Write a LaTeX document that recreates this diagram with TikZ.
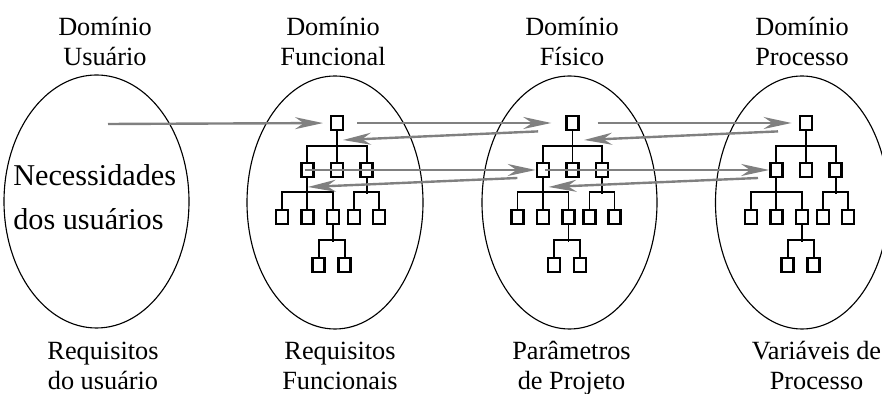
\documentclass[tikz,border=0pt]{standalone}
\usepackage{fontspec}
\setmainfont{Liberation Serif}
\usetikzlibrary{arrows.meta}

\tikzset{
    rim/.style={line width=0.8pt},
    box/.style={draw, line width=1.7pt, minimum width=0.3cm, minimum height=0.36cm, inner sep=0pt},
    branch/.style={line width=1.3pt},
    flow/.style={draw=gray, line width=1.7pt, -{Stealth[length=0.7cm, width=0.3cm, inset=0.22cm]}},
    domlabel/.style={font=\fontsize{18.7}{21.3}\selectfont, align=center, anchor=base, inner sep=0pt},
    needtext/.style={font=\fontsize{21.5}{32}\selectfont, align=left, anchor=base west, inner sep=0pt}
}

\begin{document}
\begin{tikzpicture}

        \useasboundingbox (0,0) rectangle (22.05,9.85);

        \draw [rim] (2.4125,4.8125) ellipse [x radius=2.3125, y radius=3.1625];
        \draw [rim] (8.375,4.7875) ellipse [x radius=2.2, y radius=3.1625];
        \draw [rim] (14.2375,4.7875) ellipse [x radius=2.1875, y radius=3.1625];
        \draw [rim] (20.05,4.7875) ellipse [x radius=2.1625, y radius=3.1625];

        \node[domlabel] (udom) at (2.625,8.2125) {Domínio\\Usuário};
        \node[domlabel] (fdom) at (8.325,8.2125) {Domínio\\Funcional};
        \node[domlabel] (sdom) at (14.3,8.2125) {Domínio\\Físico};
        \node[domlabel] (pdom) at (20.05,8.2125) {Domínio\\Processo};

        \node[domlabel] (ureq) at (2.575,0.1125) {Requisitos\\do usuário};
        \node[domlabel] (freq) at (8.5,0.1125) {Requisitos\\Funcionais};
        \node[domlabel] (spar) at (14.2875,0.1125) {Parâmetros\\de Projeto};
        \node[domlabel] (pvar) at (20.4125,0.1125) {Variáveis de\\Processo};

        \node[needtext] (needs) at (0.325,4.1) {Necessidades\\dos usuários};

        \begin{scope}[shift={(8.425,6.775)}, name prefix=fn-]
        \node[box] (root) at (0,0) {};
        \node[box] (mid1) at (-0.74,-1.175) {};
        \node[box] (mid2) at (0,-1.175) {};
        \node[box] (mid3) at (0.74,-1.175) {};
        \node[box] (low1) at (-1.375,-2.35) {};
        \node[box] (low2) at (-0.74,-2.35) {};
        \node[box] (low3) at (-0.1,-2.35) {};
        \node[box] (low4) at (0.425,-2.35) {};
        \node[box] (low5) at (1.05,-2.35) {};
        \node[box] (sub1) at (-0.46,-3.55) {};
        \node[box] (sub2) at (0.19,-3.55) {};
        \draw[branch] (root) -- (mid2);
        \draw[branch] (mid1.north) -- ++(0,0.395) -| (mid3.north);
        \draw[branch] (mid1) -- (low2);
        \draw[branch] (low1.north) -- ++(0,0.42) -| (low3.north);
        \draw[branch] (mid3.south) -- ++(0,-0.395);
        \draw[branch] (low4.north) -- ++(0,0.42) -| (low5.north);
        \draw[branch] (low3.south) -- ++(0,-0.42);
        \draw[branch] (sub1.north) -- ++(0,0.42) -| (sub2.north);
        \end{scope}

        \begin{scope}[shift={(14.3125,6.775)}, name prefix=fs-]
        \node[box] (root) at (0,0) {};
        \node[box] (mid1) at (-0.74,-1.175) {};
        \node[box] (mid2) at (0,-1.175) {};
        \node[box] (mid3) at (0.74,-1.175) {};
        \node[box] (low1) at (-1.375,-2.35) {};
        \node[box] (low2) at (-0.74,-2.35) {};
        \node[box] (low3) at (-0.1,-2.35) {};
        \node[box] (low4) at (0.425,-2.35) {};
        \node[box] (low5) at (1.05,-2.35) {};
        \node[box] (sub1) at (-0.46,-3.55) {};
        \node[box] (sub2) at (0.19,-3.55) {};
        \draw[branch] (root) -- (mid2);
        \draw[branch] (mid1.north) -- ++(0,0.395) -| (mid3.north);
        \draw[branch] (mid1) -- (low2);
        \draw[branch] (low1.north) -- ++(0,0.42) -| (low3.north);
        \draw[branch] (mid3.south) -- ++(0,-0.395);
        \draw[branch] (low4.north) -- ++(0,0.42) -| (low5.north);
        \draw[branch] (low3.south) -- ++(0,-0.42);
        \draw[branch] (sub1.north) -- ++(0,0.42) -| (sub2.north);
        \end{scope}

        \begin{scope}[shift={(20.15,6.775)}, name prefix=pr-]
        \node[box] (root) at (0,0) {};
        \node[box] (mid1) at (-0.74,-1.175) {};
        \node[box] (mid2) at (0,-1.175) {};
        \node[box] (mid3) at (0.74,-1.175) {};
        \node[box] (low1) at (-1.375,-2.35) {};
        \node[box] (low2) at (-0.74,-2.35) {};
        \node[box] (low3) at (-0.1,-2.35) {};
        \node[box] (low4) at (0.425,-2.35) {};
        \node[box] (low5) at (1.05,-2.35) {};
        \node[box] (sub1) at (-0.46,-3.55) {};
        \node[box] (sub2) at (0.19,-3.55) {};
        \draw[branch] (root) -- (mid2);
        \draw[branch] (mid1.north) -- ++(0,0.395) -| (mid3.north);
        \draw[branch] (mid1) -- (low2);
        \draw[branch] (low1.north) -- ++(0,0.42) -| (low3.north);
        \draw[branch] (mid3.south) -- ++(0,-0.395);
        \draw[branch] (low4.north) -- ++(0,0.42) -| (low5.north);
        \draw[branch] (low3.south) -- ++(0,-0.42);
        \draw[branch] (sub1.north) -- ++(0,0.42) -| (sub2.north);
        \end{scope}

        \coordinate (need) at (2.7,6.75);

        \draw[flow, shorten >=0.17cm] (need) -- (fn-root);
        \draw[flow, shorten <=0.33cm, shorten >=0.35cm] (fn-root) -- (fs-root);
        \draw[flow] ([shift={(-0.86,-0.21)}]fs-root.center) -- ([shift={(0.15,-0.425)}]fn-root.center);
        \draw[flow, shorten <=0.45cm, shorten >=0.18cm] (fs-root) -- (pr-root);
        \draw[flow] ([shift={(-0.7,-0.21)}]pr-root.center) -- ([shift={(0.29,-0.425)}]fs-root.center);

        \draw[flow] ([xshift=-0.06cm]fn-mid1.center) -- (fs-mid1.west);
        \draw[flow] ([shift={(-0.64,-0.2)}]fs-mid1.center) -- ([shift={(0.01,-0.425)}]fn-mid1.center);
        \draw[flow] ([xshift=0.06cm]fs-mid1.center) -- (pr-mid1.west);
        \draw[flow] ([shift={(-0.46,-0.2)}]pr-mid1.center) -- ([shift={(0.14,-0.425)}]fs-mid1.center);

\end{tikzpicture}
\end{document}
